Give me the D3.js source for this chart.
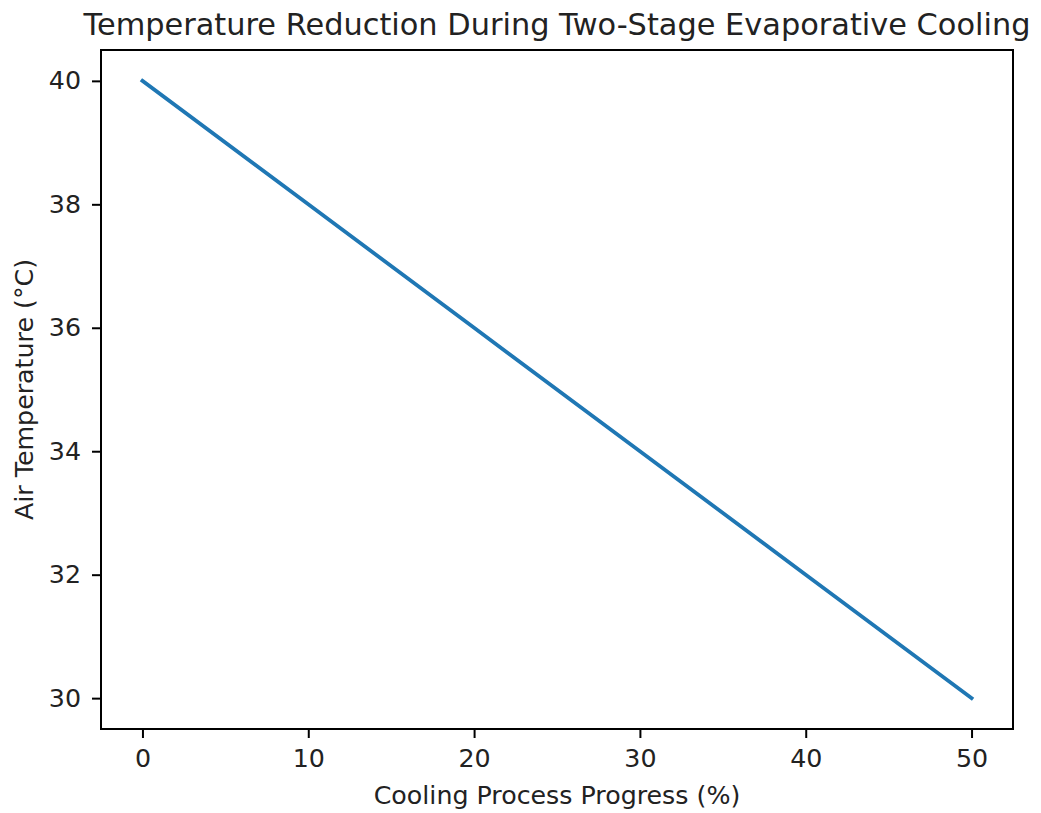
<!DOCTYPE html>
<html>
<head>
<meta charset="utf-8">
<script src="https://cdn.jsdelivr.net/npm/d3@7"></script>
<style>
  html, body { margin: 0; padding: 0; background: #fff; }
  svg { display: block; font-family: "DejaVu Sans", sans-serif; }
</style>
</head>
<body>
<svg id="chart" width="1041" height="813"></svg>
<script>
const progress = [0, 10, 20, 30, 40, 50];
const temperature = [40, 38, 36, 34, 32, 30];
const xTicks = [0, 10, 20, 30, 40, 50];
const yTicks = [30, 32, 34, 36, 38, 40];
const titleText = "Temperature Reduction During Two-Stage Evaporative Cooling";
const xLabel = "Cooling Process Progress (%)";
const yLabel = "Air Temperature (°C)";

const svg = d3.select("#chart");
const mLeft = 101, mRight = 1013, mTop = 50, mBottom = 729;

const x = d3.scaleLinear().domain([-2.5, 52.5]).range([mLeft, mRight]);
const y = d3.scaleLinear().domain([29.5, 40.5]).range([mBottom, mTop]);

const tickFont = 25.3;
const tickLen = 9;
const axisW = 2;

// line
const data = progress.map((p, i) => ({ p, t: temperature[i] }));
svg.append("path")
  .datum(data)
  .attr("fill", "none")
  .attr("stroke", "#1f77b4")
  .attr("stroke-width", 3.8)
  .attr("stroke-linecap", "square")
  .attr("d", d3.line().x(d => x(d.p)).y(d => y(d.t)));

// x axis
const xAxis = svg.append("g")
  .attr("transform", `translate(0,${mBottom})`)
  .call(d3.axisBottom(x).tickValues(xTicks).tickSize(tickLen).tickPadding(11).tickFormat(d3.format("d")));
xAxis.select(".domain").remove();
xAxis.selectAll("line").attr("stroke", "#000").attr("stroke-width", axisW);
xAxis.selectAll("text").attr("font-size", tickFont).attr("font-family", "DejaVu Sans").attr("fill", "#222");

// y axis
const yAxis = svg.append("g")
  .attr("transform", `translate(${mLeft},0)`)
  .call(d3.axisLeft(y).tickValues(yTicks).tickSize(tickLen).tickPadding(11).tickFormat(d3.format("d")));
yAxis.select(".domain").remove();
yAxis.selectAll("line").attr("stroke", "#000").attr("stroke-width", axisW);
yAxis.selectAll("text").attr("font-size", tickFont).attr("font-family", "DejaVu Sans").attr("fill", "#222");

// frame
svg.append("rect")
  .attr("x", mLeft).attr("y", mTop)
  .attr("width", mRight - mLeft).attr("height", mBottom - mTop)
  .attr("fill", "none").attr("stroke", "#000").attr("stroke-width", axisW);

// title
svg.append("text")
  .attr("x", (mLeft + mRight) / 2).attr("y", 35)
  .attr("text-anchor", "middle")
  .attr("font-size", 30.4)
  .attr("fill", "#222")
  .text(titleText);

// x label
svg.append("text")
  .attr("x", (mLeft + mRight) / 2).attr("y", 804)
  .attr("text-anchor", "middle")
  .attr("font-size", tickFont)
  .attr("fill", "#222")
  .text(xLabel);

// y label
svg.append("text")
  .attr("transform", `translate(33,${(mTop + mBottom) / 2}) rotate(-90)`)
  .attr("text-anchor", "middle")
  .attr("font-size", tickFont)
  .attr("fill", "#222")
  .text(yLabel);
</script>
</body>
</html>
